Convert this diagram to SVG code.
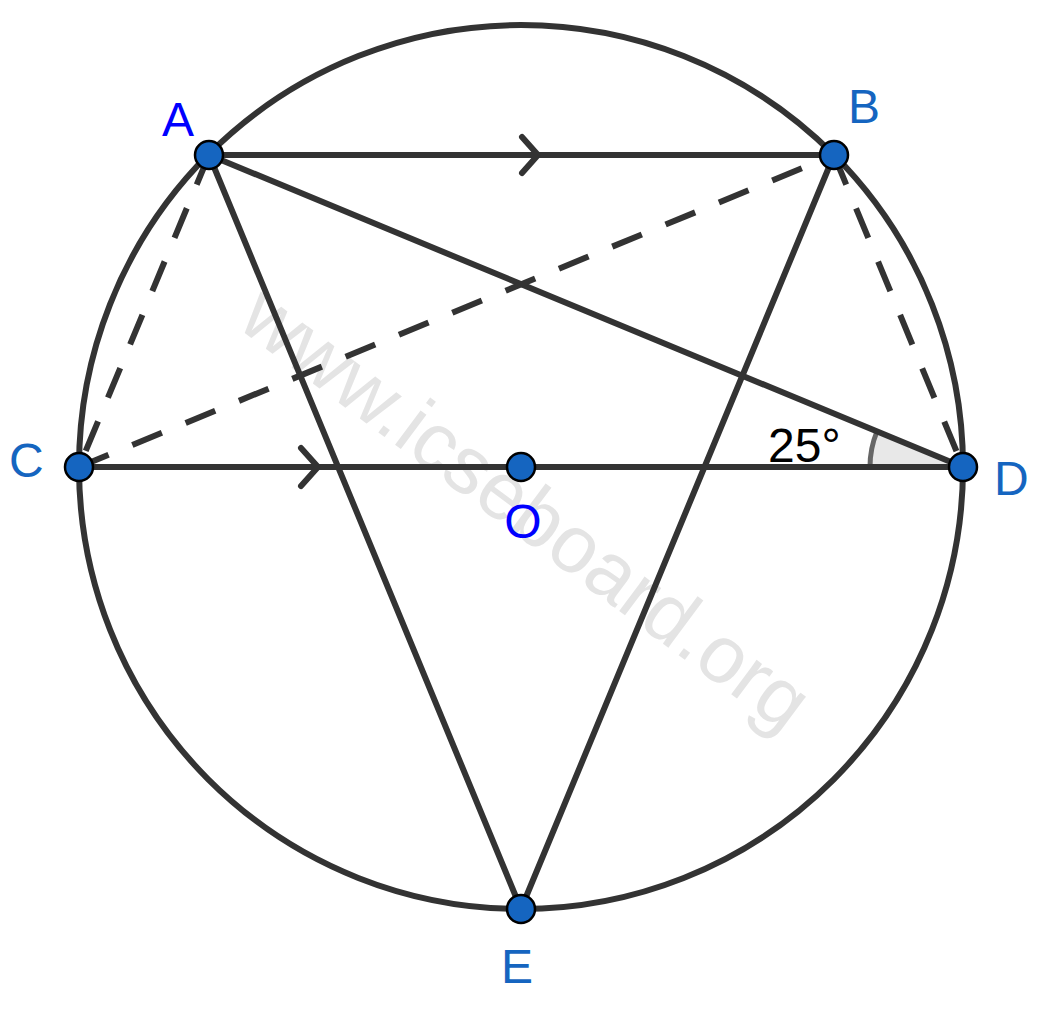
<svg xmlns="http://www.w3.org/2000/svg" width="1046" height="1010" viewBox="0 0 1046 1010">
<style>
.ln{stroke:#333333;stroke-width:6;fill:none;stroke-linecap:round}
.ds{stroke:#333333;stroke-width:6;fill:none;stroke-dasharray:32 25.7}
.pt{fill:#1565c0;stroke:#000;stroke-width:2.5}
.lb{font-family:"Liberation Sans",Arial,sans-serif;font-size:48px}
</style>
<rect width="1046" height="1010" fill="#fff"/>
<text x="0" y="0" transform="translate(510,530) rotate(36.6)" text-anchor="middle" font-family="Liberation Sans, Arial, sans-serif" font-size="81" fill="#e4e4e4">www.icseboard.org</text>
<g id="connectors">
<circle cx="521" cy="467" r="442" class="ln"/>
<path d="M963,467 L870,467 A93,93 0 0 1 877,431.4 Z" fill="#e6e6e6" fill-opacity="0.9" stroke="none"/>
<path d="M870,467 A93,93 0 0 1 877,431.4" fill="none" stroke="#666" stroke-width="5"/>
<line x1="209" y1="155" x2="834" y2="155" class="ln"/>
<line x1="209" y1="155" x2="963" y2="467" class="ln"/>
<line x1="209" y1="155" x2="521" y2="909" class="ln"/>
<line x1="834" y1="155" x2="521" y2="909" class="ln"/>
<line x1="79" y1="467" x2="963" y2="467" class="ln"/>
<line x1="209" y1="155" x2="79" y2="467" class="ds"/>
<line x1="79" y1="467" x2="834" y2="155" class="ds"/>
<line x1="834" y1="155" x2="963" y2="467" class="ds"/>
<polyline points="522,137 538,155 522,173" class="ln" stroke-linejoin="round"/>
<polyline points="301,448 318,467 301,486" class="ln" stroke-linejoin="round"/>
</g>
<g id="A"><circle cx="209" cy="155" r="14" class="pt"/><text x="162" y="136" class="lb" fill="#0000ff">A</text></g>
<g id="B"><circle cx="834" cy="155" r="14" class="pt"/><text x="848" y="123" class="lb" fill="#1565c0">B</text></g>
<g id="C"><circle cx="79" cy="467" r="14" class="pt"/><text x="9" y="477" class="lb" fill="#1565c0">C</text></g>
<g id="D"><circle cx="963" cy="467" r="14" class="pt"/><text x="994" y="495" class="lb" fill="#1565c0">D</text></g>
<g id="O"><circle cx="521" cy="467" r="14" class="pt"/><text x="523" y="538" class="lb" fill="#0000ff" text-anchor="middle">O</text></g>
<g id="E"><circle cx="521" cy="909" r="14" class="pt"/><text x="517" y="983" class="lb" fill="#1565c0" text-anchor="middle">E</text></g>
<text x="768" y="462" class="lb" fill="#000">25°</text>
</svg>
